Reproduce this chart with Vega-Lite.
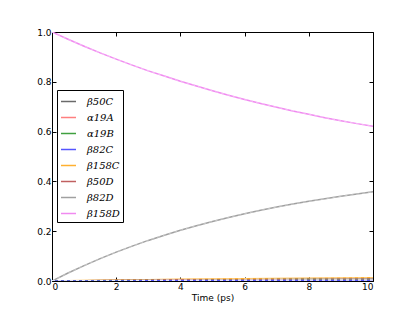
{
  "$schema": "https://vega.github.io/schema/vega-lite/v6.json",
  "autosize": {"type": "none"},
  "padding": {"left": 52, "top": 32, "right": 42, "bottom": 31},
  "width": 321,
  "height": 249,
  "background": "white",
  "config": {
    "view": {"stroke": "black", "strokeWidth": 1},
    "font": "DejaVu Sans",
    "axis": {"grid": false, "domain": false, "tickColor": "black", "tickSize": -4, "labelFontSize": 9, "labelColor": "black", "labelPadding": 5, "titleFontSize": 9, "titleFontWeight": "normal", "titleColor": "black"}
  },
  "data": {"values": [
    {"s": "β158D", "t": 0, "v": 1.000}, {"s": "β158D", "t": 0.5, "v": 0.971}, {"s": "β158D", "t": 1, "v": 0.943}, {"s": "β158D", "t": 1.5, "v": 0.916}, {"s": "β158D", "t": 2, "v": 0.891}, {"s": "β158D", "t": 2.5, "v": 0.867}, {"s": "β158D", "t": 3, "v": 0.844}, {"s": "β158D", "t": 3.5, "v": 0.823}, {"s": "β158D", "t": 4, "v": 0.802}, {"s": "β158D", "t": 4.5, "v": 0.783}, {"s": "β158D", "t": 5, "v": 0.764}, {"s": "β158D", "t": 5.5, "v": 0.746}, {"s": "β158D", "t": 6, "v": 0.729}, {"s": "β158D", "t": 6.5, "v": 0.713}, {"s": "β158D", "t": 7, "v": 0.698}, {"s": "β158D", "t": 7.5, "v": 0.683}, {"s": "β158D", "t": 8, "v": 0.670}, {"s": "β158D", "t": 8.5, "v": 0.656}, {"s": "β158D", "t": 9, "v": 0.644}, {"s": "β158D", "t": 9.5, "v": 0.632}, {"s": "β158D", "t": 10, "v": 0.621},
    {"s": "β82D", "t": 0, "v": 0.000}, {"s": "β82D", "t": 0.5, "v": 0.032}, {"s": "β82D", "t": 1, "v": 0.062}, {"s": "β82D", "t": 1.5, "v": 0.090}, {"s": "β82D", "t": 2, "v": 0.116}, {"s": "β82D", "t": 2.5, "v": 0.140}, {"s": "β82D", "t": 3, "v": 0.163}, {"s": "β82D", "t": 3.5, "v": 0.184}, {"s": "β82D", "t": 4, "v": 0.204}, {"s": "β82D", "t": 4.5, "v": 0.222}, {"s": "β82D", "t": 5, "v": 0.239}, {"s": "β82D", "t": 5.5, "v": 0.255}, {"s": "β82D", "t": 6, "v": 0.270}, {"s": "β82D", "t": 6.5, "v": 0.284}, {"s": "β82D", "t": 7, "v": 0.297}, {"s": "β82D", "t": 7.5, "v": 0.309}, {"s": "β82D", "t": 8, "v": 0.320}, {"s": "β82D", "t": 8.5, "v": 0.330}, {"s": "β82D", "t": 9, "v": 0.340}, {"s": "β82D", "t": 9.5, "v": 0.349}, {"s": "β82D", "t": 10, "v": 0.358},
    {"s": "β158C", "t": 0, "v": 0.000}, {"s": "β158C", "t": 1, "v": 0.002}, {"s": "β158C", "t": 2, "v": 0.004}, {"s": "β158C", "t": 3, "v": 0.005}, {"s": "β158C", "t": 4, "v": 0.007}, {"s": "β158C", "t": 5, "v": 0.008}, {"s": "β158C", "t": 6, "v": 0.009}, {"s": "β158C", "t": 7, "v": 0.010}, {"s": "β158C", "t": 8, "v": 0.011}, {"s": "β158C", "t": 9, "v": 0.012}, {"s": "β158C", "t": 10, "v": 0.013},
    {"s": "β50C", "t": 0, "v": 0.000}, {"s": "β50C", "t": 1, "v": 0.001}, {"s": "β50C", "t": 2, "v": 0.002}, {"s": "β50C", "t": 3, "v": 0.003}, {"s": "β50C", "t": 4, "v": 0.004}, {"s": "β50C", "t": 5, "v": 0.005}, {"s": "β50C", "t": 6, "v": 0.005}, {"s": "β50C", "t": 7, "v": 0.006}, {"s": "β50C", "t": 8, "v": 0.007}, {"s": "β50C", "t": 9, "v": 0.007}, {"s": "β50C", "t": 10, "v": 0.008},
    {"s": "β50D", "t": 0, "v": 0.000}, {"s": "β50D", "t": 1, "v": 0.001}, {"s": "β50D", "t": 2, "v": 0.002}, {"s": "β50D", "t": 3, "v": 0.002}, {"s": "β50D", "t": 4, "v": 0.003}, {"s": "β50D", "t": 5, "v": 0.004}, {"s": "β50D", "t": 6, "v": 0.004}, {"s": "β50D", "t": 7, "v": 0.005}, {"s": "β50D", "t": 8, "v": 0.005}, {"s": "β50D", "t": 9, "v": 0.006}, {"s": "β50D", "t": 10, "v": 0.006},
    {"s": "α19A", "t": 0, "v": 0.000}, {"s": "α19A", "t": 1, "v": 0.000}, {"s": "α19A", "t": 2, "v": 0.001}, {"s": "α19A", "t": 3, "v": 0.001}, {"s": "α19A", "t": 4, "v": 0.002}, {"s": "α19A", "t": 5, "v": 0.002}, {"s": "α19A", "t": 6, "v": 0.003}, {"s": "α19A", "t": 7, "v": 0.003}, {"s": "α19A", "t": 8, "v": 0.003}, {"s": "α19A", "t": 9, "v": 0.004}, {"s": "α19A", "t": 10, "v": 0.004},
    {"s": "α19B", "t": 0, "v": 0.000}, {"s": "α19B", "t": 1, "v": 0.000}, {"s": "α19B", "t": 2, "v": 0.001}, {"s": "α19B", "t": 3, "v": 0.001}, {"s": "α19B", "t": 4, "v": 0.001}, {"s": "α19B", "t": 5, "v": 0.002}, {"s": "α19B", "t": 6, "v": 0.002}, {"s": "α19B", "t": 7, "v": 0.002}, {"s": "α19B", "t": 8, "v": 0.003}, {"s": "α19B", "t": 9, "v": 0.003}, {"s": "α19B", "t": 10, "v": 0.003},
    {"s": "β82C", "t": 0, "v": 0.000}, {"s": "β82C", "t": 1, "v": 0.000}, {"s": "β82C", "t": 2, "v": 0.000}, {"s": "β82C", "t": 3, "v": 0.001}, {"s": "β82C", "t": 4, "v": 0.001}, {"s": "β82C", "t": 5, "v": 0.001}, {"s": "β82C", "t": 6, "v": 0.001}, {"s": "β82C", "t": 7, "v": 0.002}, {"s": "β82C", "t": 8, "v": 0.002}, {"s": "β82C", "t": 9, "v": 0.002}, {"s": "β82C", "t": 10, "v": 0.002}
  ]},
  "resolve": {"axis": {"x": "independent", "y": "independent"}},
  "layer": [
    {
      "mark": {"type": "line", "strokeWidth": 1.5, "clip": true},
      "encoding": {
        "x": {"field": "t", "type": "quantitative", "scale": {"domain": [0, 10], "nice": false}, "axis": {"title": "Time (ps)", "values": [0, 2, 4, 6, 8, 10], "format": "d", "titlePadding": 2}},
        "y": {"field": "v", "type": "quantitative", "scale": {"domain": [0, 1], "nice": false}, "axis": {"title": null, "values": [0, 0.2, 0.4, 0.6, 0.8, 1.0], "format": ".1f"}},
        "color": {
          "field": "s", "type": "nominal",
          "scale": {"domain": ["β50C", "α19A", "α19B", "β82C", "β158C", "β50D", "β82D", "β158D"], "range": ["#6a6a6a", "#ff7f7f", "#40a040", "#5555ff", "#ffb030", "#c06060", "#a0a0a0", "#f08af0"]},
          "legend": {"title": null, "orient": "none", "legendX": 5, "legendY": 58, "fillColor": "white", "strokeColor": "black", "padding": 3, "symbolType": "stroke", "symbolSize": 225, "symbolStrokeWidth": 1.5, "labelFont": "DejaVu Serif", "labelFontStyle": "italic", "labelFontSize": 10, "labelColor": "black", "labelOffset": 10, "rowPadding": 2}
        }
      }
    },
    {
      "mark": {"type": "line", "strokeWidth": 0.8, "color": "white", "opacity": 0.5, "strokeDash": [3, 3], "clip": true},
      "encoding": {
        "x": {"field": "t", "type": "quantitative", "axis": {"orient": "top", "labels": false, "title": null, "values": [0, 2, 4, 6, 8, 10]}},
        "y": {"field": "v", "type": "quantitative", "axis": {"orient": "right", "labels": false, "title": null, "values": [0, 0.2, 0.4, 0.6, 0.8, 1.0]}},
        "detail": {"field": "s"}
      }
    }
  ]
}
